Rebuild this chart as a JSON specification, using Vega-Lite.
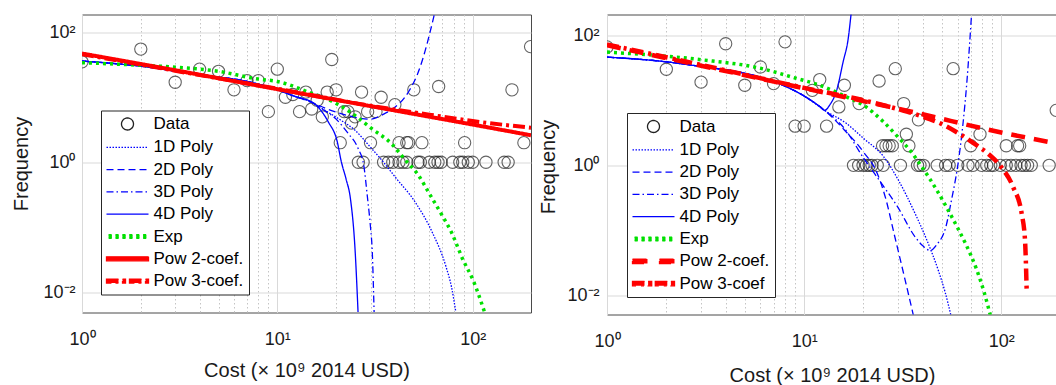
{
  "$schema": "https://vega.github.io/schema/vega-lite/v6.json",
  "padding": {"left": 10, "top": 13.5, "right": 0, "bottom": 0},
  "spacing": 76,
  "bounds": "flush",
  "config": {
    "font": "Liberation Sans",
    "view": {"stroke": "#4a4a4a", "strokeWidth": 1},
    "axis": {"domain": false, "ticks": false, "tickSize": 0, "labelFont": "Liberation Sans", "labelFontSize": 18, "labelColor": "#1a1a1a", "titleFont": "Liberation Sans", "titleFontSize": 20, "titleFontWeight": "normal", "titleColor": "#1a1a1a", "labelFlush": false, "labelOverlap": false, "gridWidth": 1}
  },
  "resolve": {"scale": {"color": "independent", "strokeDash": "independent", "x": "independent", "y": "independent"}, "legend": {"color": "independent", "strokeDash": "independent"}},
  "datasets": {
    "leftPoints": [
      {"series": "Data", "cost": 1, "freq": 35}, {"series": "Data", "cost": 2, "freq": 55}, {"series": "Data", "cost": 3, "freq": 17}, {"series": "Data", "cost": 4, "freq": 27}, {"series": "Data", "cost": 5, "freq": 25}, {"series": "Data", "cost": 6, "freq": 13}, {"series": "Data", "cost": 7, "freq": 18}, {"series": "Data", "cost": 8, "freq": 18}, {"series": "Data", "cost": 9, "freq": 6}, {"series": "Data", "cost": 10, "freq": 27}, {"series": "Data", "cost": 11, "freq": 10}, {"series": "Data", "cost": 12, "freq": 11}, {"series": "Data", "cost": 13, "freq": 6}, {"series": "Data", "cost": 14, "freq": 12}, {"series": "Data", "cost": 15, "freq": 6.6}, {"series": "Data", "cost": 16, "freq": 9}, {"series": "Data", "cost": 17, "freq": 5}, {"series": "Data", "cost": 18, "freq": 12}, {"series": "Data", "cost": 19, "freq": 38}, {"series": "Data", "cost": 20, "freq": 13}, {"series": "Data", "cost": 21, "freq": 2}, {"series": "Data", "cost": 22, "freq": 6}, {"series": "Data", "cost": 23, "freq": 6}, {"series": "Data", "cost": 24, "freq": 4}, {"series": "Data", "cost": 25, "freq": 5}, {"series": "Data", "cost": 27, "freq": 12}, {"series": "Data", "cost": 29, "freq": 6}, {"series": "Data", "cost": 30, "freq": 2}, {"series": "Data", "cost": 32, "freq": 6}, {"series": "Data", "cost": 34, "freq": 10}, {"series": "Data", "cost": 40, "freq": 7.7}, {"series": "Data", "cost": 42, "freq": 2}, {"series": "Data", "cost": 46, "freq": 2}, {"series": "Data", "cost": 47, "freq": 2}, {"series": "Data", "cost": 50, "freq": 13}, {"series": "Data", "cost": 55, "freq": 2}, {"series": "Data", "cost": 67, "freq": 14.6}, {"series": "Data", "cost": 91, "freq": 2}, {"series": "Data", "cost": 159, "freq": 13}, {"series": "Data", "cost": 183, "freq": 2}, {"series": "Data", "cost": 198, "freq": 60},
      {"series": "Data", "cost": 26, "freq": 1}, {"series": "Data", "cost": 27.5, "freq": 1}, {"series": "Data", "cost": 35, "freq": 1}, {"series": "Data", "cost": 37, "freq": 1}, {"series": "Data", "cost": 39, "freq": 1}, {"series": "Data", "cost": 42, "freq": 1}, {"series": "Data", "cost": 44, "freq": 1}, {"series": "Data", "cost": 46, "freq": 1}, {"series": "Data", "cost": 52.5, "freq": 1}, {"series": "Data", "cost": 54, "freq": 1}, {"series": "Data", "cost": 60, "freq": 1}, {"series": "Data", "cost": 64, "freq": 1}, {"series": "Data", "cost": 66.5, "freq": 1}, {"series": "Data", "cost": 69, "freq": 1}, {"series": "Data", "cost": 79, "freq": 1}, {"series": "Data", "cost": 86, "freq": 1}, {"series": "Data", "cost": 89, "freq": 1}, {"series": "Data", "cost": 95, "freq": 1}, {"series": "Data", "cost": 100, "freq": 1}, {"series": "Data", "cost": 117, "freq": 1}, {"series": "Data", "cost": 145, "freq": 1}, {"series": "Data", "cost": 152, "freq": 1}
    ],
    "leftCurves": [
      {"series": "1D Poly", "cost": 1, "freq": 36}, {"series": "1D Poly", "cost": 2, "freq": 30}, {"series": "1D Poly", "cost": 4, "freq": 22}, {"series": "1D Poly", "cost": 7, "freq": 17.5}, {"series": "1D Poly", "cost": 10, "freq": 13}, {"series": "1D Poly", "cost": 12.3, "freq": 10.3}, {"series": "1D Poly", "cost": 15, "freq": 8.4}, {"series": "1D Poly", "cost": 17.5, "freq": 6.3}, {"series": "1D Poly", "cost": 21, "freq": 4.5}, {"series": "1D Poly", "cost": 25, "freq": 3.1}, {"series": "1D Poly", "cost": 30, "freq": 1.7}, {"series": "1D Poly", "cost": 35, "freq": 1.0}, {"series": "1D Poly", "cost": 40, "freq": 0.6}, {"series": "1D Poly", "cost": 51, "freq": 0.24}, {"series": "1D Poly", "cost": 62, "freq": 0.085}, {"series": "1D Poly", "cost": 73, "freq": 0.025}, {"series": "1D Poly", "cost": 78, "freq": 0.012}, {"series": "1D Poly", "cost": 82, "freq": 0.005},
      {"series": "2D Poly", "cost": 1, "freq": 36}, {"series": "2D Poly", "cost": 2, "freq": 30}, {"series": "2D Poly", "cost": 4, "freq": 22}, {"series": "2D Poly", "cost": 7, "freq": 17.5}, {"series": "2D Poly", "cost": 10, "freq": 13}, {"series": "2D Poly", "cost": 12.3, "freq": 10.3}, {"series": "2D Poly", "cost": 15, "freq": 8.3}, {"series": "2D Poly", "cost": 18, "freq": 6.6}, {"series": "2D Poly", "cost": 22, "freq": 5.4}, {"series": "2D Poly", "cost": 26, "freq": 4.8}, {"series": "2D Poly", "cost": 30, "freq": 4.6}, {"series": "2D Poly", "cost": 35, "freq": 5.5}, {"series": "2D Poly", "cost": 40, "freq": 7}, {"series": "2D Poly", "cost": 45, "freq": 10}, {"series": "2D Poly", "cost": 48, "freq": 13.5}, {"series": "2D Poly", "cost": 52, "freq": 22}, {"series": "2D Poly", "cost": 56, "freq": 42}, {"series": "2D Poly", "cost": 60, "freq": 90}, {"series": "2D Poly", "cost": 64, "freq": 200},
      {"series": "3D Poly", "cost": 1, "freq": 36}, {"series": "3D Poly", "cost": 2, "freq": 30}, {"series": "3D Poly", "cost": 4, "freq": 22}, {"series": "3D Poly", "cost": 7, "freq": 17.5}, {"series": "3D Poly", "cost": 10, "freq": 13}, {"series": "3D Poly", "cost": 12.3, "freq": 10.3}, {"series": "3D Poly", "cost": 15, "freq": 8.4}, {"series": "3D Poly", "cost": 17, "freq": 6.6}, {"series": "3D Poly", "cost": 20, "freq": 4.6}, {"series": "3D Poly", "cost": 23, "freq": 2.8}, {"series": "3D Poly", "cost": 26, "freq": 1.6}, {"series": "3D Poly", "cost": 27.7, "freq": 0.9}, {"series": "3D Poly", "cost": 28.9, "freq": 0.3}, {"series": "3D Poly", "cost": 30, "freq": 0.1}, {"series": "3D Poly", "cost": 30.6, "freq": 0.045}, {"series": "3D Poly", "cost": 31.3, "freq": 0.005},
      {"series": "4D Poly", "cost": 1, "freq": 36}, {"series": "4D Poly", "cost": 2, "freq": 30}, {"series": "4D Poly", "cost": 4, "freq": 22}, {"series": "4D Poly", "cost": 7, "freq": 17.5}, {"series": "4D Poly", "cost": 10, "freq": 13}, {"series": "4D Poly", "cost": 12.3, "freq": 10.3}, {"series": "4D Poly", "cost": 15, "freq": 8.4}, {"series": "4D Poly", "cost": 16.2, "freq": 7.0}, {"series": "4D Poly", "cost": 18.3, "freq": 4.1}, {"series": "4D Poly", "cost": 20.2, "freq": 2.16}, {"series": "4D Poly", "cost": 21.3, "freq": 1.0}, {"series": "4D Poly", "cost": 22.5, "freq": 0.55}, {"series": "4D Poly", "cost": 23.7, "freq": 0.27}, {"series": "4D Poly", "cost": 25, "freq": 0.046}, {"series": "4D Poly", "cost": 25.9, "freq": 0.005},
      {"series": "Exp", "cost": 1, "freq": 34}, {"series": "Exp", "cost": 2, "freq": 31}, {"series": "Exp", "cost": 3, "freq": 29}, {"series": "Exp", "cost": 5, "freq": 25}, {"series": "Exp", "cost": 8, "freq": 19}, {"series": "Exp", "cost": 10, "freq": 17.5}, {"series": "Exp", "cost": 14.4, "freq": 12}, {"series": "Exp", "cost": 20, "freq": 8}, {"series": "Exp", "cost": 26, "freq": 4.8}, {"series": "Exp", "cost": 30, "freq": 3.4}, {"series": "Exp", "cost": 38.6, "freq": 1.9}, {"series": "Exp", "cost": 45, "freq": 1.1}, {"series": "Exp", "cost": 53, "freq": 0.62}, {"series": "Exp", "cost": 60, "freq": 0.33}, {"series": "Exp", "cost": 70, "freq": 0.15}, {"series": "Exp", "cost": 77, "freq": 0.09}, {"series": "Exp", "cost": 90, "freq": 0.03}, {"series": "Exp", "cost": 100, "freq": 0.016}, {"series": "Exp", "cost": 115, "freq": 0.005},
      {"series": "Pow 2-coef.", "cost": 1, "freq": 47}, {"series": "Pow 2-coef.", "cost": 3, "freq": 26}, {"series": "Pow 2-coef.", "cost": 10, "freq": 13.3}, {"series": "Pow 2-coef.", "cost": 30, "freq": 7.3}, {"series": "Pow 2-coef.", "cost": 100, "freq": 3.8}, {"series": "Pow 2-coef.", "cost": 199, "freq": 2.6},
      {"series": "Pow 3-coef.", "cost": 1, "freq": 46}, {"series": "Pow 3-coef.", "cost": 3, "freq": 25.5}, {"series": "Pow 3-coef.", "cost": 10, "freq": 13.5}, {"series": "Pow 3-coef.", "cost": 30, "freq": 7.4}, {"series": "Pow 3-coef.", "cost": 60, "freq": 5.4}, {"series": "Pow 3-coef.", "cost": 100, "freq": 4.3}, {"series": "Pow 3-coef.", "cost": 199, "freq": 3.4}
    ],
    "rightPoints": [
      {"series": "Data", "cost": 1, "freq": 66}, {"series": "Data", "cost": 2, "freq": 30}, {"series": "Data", "cost": 3, "freq": 19}, {"series": "Data", "cost": 4, "freq": 74}, {"series": "Data", "cost": 5, "freq": 17}, {"series": "Data", "cost": 6, "freq": 32.5}, {"series": "Data", "cost": 7, "freq": 18}, {"series": "Data", "cost": 8, "freq": 79}, {"series": "Data", "cost": 9, "freq": 4}, {"series": "Data", "cost": 10, "freq": 4}, {"series": "Data", "cost": 11, "freq": 14.2}, {"series": "Data", "cost": 12, "freq": 20.8}, {"series": "Data", "cost": 13, "freq": 4}, {"series": "Data", "cost": 15, "freq": 7.9}, {"series": "Data", "cost": 16, "freq": 17}, {"series": "Data", "cost": 19, "freq": 8.9}, {"series": "Data", "cost": 24, "freq": 19.8}, {"series": "Data", "cost": 25, "freq": 2}, {"series": "Data", "cost": 26, "freq": 2}, {"series": "Data", "cost": 27, "freq": 2}, {"series": "Data", "cost": 28, "freq": 2}, {"series": "Data", "cost": 29, "freq": 30.6}, {"series": "Data", "cost": 32, "freq": 8.9}, {"series": "Data", "cost": 33, "freq": 3}, {"series": "Data", "cost": 34, "freq": 2}, {"series": "Data", "cost": 38, "freq": 5}, {"series": "Data", "cost": 57, "freq": 30.6}, {"series": "Data", "cost": 70, "freq": 2}, {"series": "Data", "cost": 78, "freq": 3}, {"series": "Data", "cost": 106, "freq": 2}, {"series": "Data", "cost": 121, "freq": 2}, {"series": "Data", "cost": 124, "freq": 2}, {"series": "Data", "cost": 190, "freq": 7},
      {"series": "Data", "cost": 17.8, "freq": 1}, {"series": "Data", "cost": 18.9, "freq": 1}, {"series": "Data", "cost": 19.9, "freq": 1}, {"series": "Data", "cost": 20.7, "freq": 1}, {"series": "Data", "cost": 21.4, "freq": 1}, {"series": "Data", "cost": 22.1, "freq": 1}, {"series": "Data", "cost": 23.5, "freq": 1}, {"series": "Data", "cost": 25.2, "freq": 1}, {"series": "Data", "cost": 30.8, "freq": 1}, {"series": "Data", "cost": 37.6, "freq": 1}, {"series": "Data", "cost": 38.7, "freq": 1}, {"series": "Data", "cost": 40.3, "freq": 1}, {"series": "Data", "cost": 47.3, "freq": 1}, {"series": "Data", "cost": 52.2, "freq": 1}, {"series": "Data", "cost": 54.4, "freq": 1}, {"series": "Data", "cost": 60.1, "freq": 1}, {"series": "Data", "cost": 67.8, "freq": 1}, {"series": "Data", "cost": 71.9, "freq": 1}, {"series": "Data", "cost": 79.5, "freq": 1}, {"series": "Data", "cost": 84.4, "freq": 1}, {"series": "Data", "cost": 88.5, "freq": 1}, {"series": "Data", "cost": 91.4, "freq": 1}, {"series": "Data", "cost": 98.9, "freq": 1}, {"series": "Data", "cost": 106, "freq": 1}, {"series": "Data", "cost": 112, "freq": 1}, {"series": "Data", "cost": 118.5, "freq": 1}, {"series": "Data", "cost": 126, "freq": 1}, {"series": "Data", "cost": 131, "freq": 1}, {"series": "Data", "cost": 136, "freq": 1}, {"series": "Data", "cost": 142, "freq": 1}, {"series": "Data", "cost": 175, "freq": 1}
    ],
    "rightCurves": [
      {"series": "1D Poly", "cost": 1, "freq": 46}, {"series": "1D Poly", "cost": 2, "freq": 39}, {"series": "1D Poly", "cost": 3, "freq": 33}, {"series": "1D Poly", "cost": 5, "freq": 26}, {"series": "1D Poly", "cost": 8, "freq": 16.5}, {"series": "1D Poly", "cost": 10.5, "freq": 10.6}, {"series": "1D Poly", "cost": 12.7, "freq": 7}, {"series": "1D Poly", "cost": 16.4, "freq": 4.4}, {"series": "1D Poly", "cost": 20, "freq": 2.6}, {"series": "1D Poly", "cost": 25.4, "freq": 1.34}, {"series": "1D Poly", "cost": 30, "freq": 0.6}, {"series": "1D Poly", "cost": 36.6, "freq": 0.18}, {"series": "1D Poly", "cost": 42, "freq": 0.07}, {"series": "1D Poly", "cost": 48, "freq": 0.024}, {"series": "1D Poly", "cost": 52, "freq": 0.011}, {"series": "1D Poly", "cost": 55.5, "freq": 0.005},
      {"series": "2D Poly", "cost": 1, "freq": 46}, {"series": "2D Poly", "cost": 2, "freq": 39}, {"series": "2D Poly", "cost": 3, "freq": 33}, {"series": "2D Poly", "cost": 5, "freq": 26}, {"series": "2D Poly", "cost": 8, "freq": 16.5}, {"series": "2D Poly", "cost": 10.5, "freq": 10.6}, {"series": "2D Poly", "cost": 12.7, "freq": 7}, {"series": "2D Poly", "cost": 16, "freq": 3.5}, {"series": "2D Poly", "cost": 20, "freq": 1.6}, {"series": "2D Poly", "cost": 23.5, "freq": 0.75}, {"series": "2D Poly", "cost": 26, "freq": 0.3}, {"series": "2D Poly", "cost": 28.6, "freq": 0.089}, {"series": "2D Poly", "cost": 32.3, "freq": 0.019}, {"series": "2D Poly", "cost": 35.8, "freq": 0.005},
      {"series": "3D Poly", "cost": 1, "freq": 46}, {"series": "3D Poly", "cost": 2, "freq": 39}, {"series": "3D Poly", "cost": 3, "freq": 33}, {"series": "3D Poly", "cost": 5, "freq": 26}, {"series": "3D Poly", "cost": 8, "freq": 16.5}, {"series": "3D Poly", "cost": 10.5, "freq": 10.6}, {"series": "3D Poly", "cost": 12.7, "freq": 7}, {"series": "3D Poly", "cost": 16, "freq": 3.7}, {"series": "3D Poly", "cost": 20, "freq": 1.3}, {"series": "3D Poly", "cost": 25, "freq": 0.5}, {"series": "3D Poly", "cost": 29.8, "freq": 0.23}, {"series": "3D Poly", "cost": 36.6, "freq": 0.079}, {"series": "3D Poly", "cost": 40, "freq": 0.058}, {"series": "3D Poly", "cost": 43.7, "freq": 0.049}, {"series": "3D Poly", "cost": 47, "freq": 0.06}, {"series": "3D Poly", "cost": 52.3, "freq": 0.112}, {"series": "3D Poly", "cost": 56, "freq": 0.3}, {"series": "3D Poly", "cost": 60, "freq": 0.94}, {"series": "3D Poly", "cost": 63.7, "freq": 3.9}, {"series": "3D Poly", "cost": 67, "freq": 20}, {"series": "3D Poly", "cost": 70.6, "freq": 200},
      {"series": "4D Poly", "cost": 1, "freq": 46}, {"series": "4D Poly", "cost": 2, "freq": 39}, {"series": "4D Poly", "cost": 3, "freq": 33}, {"series": "4D Poly", "cost": 5, "freq": 26}, {"series": "4D Poly", "cost": 8, "freq": 16.5}, {"series": "4D Poly", "cost": 10.5, "freq": 10.6}, {"series": "4D Poly", "cost": 12, "freq": 8}, {"series": "4D Poly", "cost": 12.7, "freq": 7}, {"series": "4D Poly", "cost": 13.5, "freq": 8.5}, {"series": "4D Poly", "cost": 14.6, "freq": 14}, {"series": "4D Poly", "cost": 15.8, "freq": 40}, {"series": "4D Poly", "cost": 16.7, "freq": 85}, {"series": "4D Poly", "cost": 17.3, "freq": 210},
      {"series": "Exp", "cost": 1, "freq": 55}, {"series": "Exp", "cost": 3, "freq": 42}, {"series": "Exp", "cost": 6, "freq": 31}, {"series": "Exp", "cost": 9, "freq": 22}, {"series": "Exp", "cost": 12, "freq": 17}, {"series": "Exp", "cost": 17, "freq": 10.7}, {"series": "Exp", "cost": 20, "freq": 8.4}, {"series": "Exp", "cost": 25, "freq": 4.8}, {"series": "Exp", "cost": 30, "freq": 2.7}, {"series": "Exp", "cost": 35, "freq": 1.6}, {"series": "Exp", "cost": 40, "freq": 0.9}, {"series": "Exp", "cost": 47, "freq": 0.42}, {"series": "Exp", "cost": 54, "freq": 0.2}, {"series": "Exp", "cost": 60, "freq": 0.11}, {"series": "Exp", "cost": 66, "freq": 0.062}, {"series": "Exp", "cost": 75, "freq": 0.025}, {"series": "Exp", "cost": 82, "freq": 0.011}, {"series": "Exp", "cost": 88, "freq": 0.005},
      {"series": "Pow 2-coef.", "cost": 1, "freq": 70}, {"series": "Pow 2-coef.", "cost": 3, "freq": 34}, {"series": "Pow 2-coef.", "cost": 10, "freq": 15.3}, {"series": "Pow 2-coef.", "cost": 38, "freq": 6.3}, {"series": "Pow 2-coef.", "cost": 100, "freq": 3.2}, {"series": "Pow 2-coef.", "cost": 194, "freq": 2.15},
      {"series": "Pow 3-coef", "cost": 1, "freq": 72}, {"series": "Pow 3-coef", "cost": 3, "freq": 35}, {"series": "Pow 3-coef", "cost": 10, "freq": 15.5}, {"series": "Pow 3-coef", "cost": 20, "freq": 10}, {"series": "Pow 3-coef", "cost": 30, "freq": 7.3}, {"series": "Pow 3-coef", "cost": 40, "freq": 5.6}, {"series": "Pow 3-coef", "cost": 50, "freq": 4.3}, {"series": "Pow 3-coef", "cost": 63, "freq": 2.9}, {"series": "Pow 3-coef", "cost": 73, "freq": 2.15}, {"series": "Pow 3-coef", "cost": 86, "freq": 1.5}, {"series": "Pow 3-coef", "cost": 100, "freq": 0.94}, {"series": "Pow 3-coef", "cost": 115, "freq": 0.46}, {"series": "Pow 3-coef", "cost": 127, "freq": 0.18}, {"series": "Pow 3-coef", "cost": 132, "freq": 0.07}, {"series": "Pow 3-coef", "cost": 134.5, "freq": 0.0125}
    ]
  },
  "hconcat": [
    {
      "width": 449,
      "height": 298,
      "layer": [
        {
          "data": {"name": "leftPoints"},
          "mark": {"type": "point", "shape": "circle", "size": 150, "filled": false, "strokeWidth": 1.1, "clip": true},
          "encoding": {
            "x": {"field": "cost", "type": "quantitative", "scale": {"type": "log", "domain": [1, 199], "nice": false},
              "axis": {"values": [1, 2, 3, 4, 5, 6, 7, 8, 9, 10, 20, 30, 40, 50, 60, 70, 80, 90, 100],
                "labelExpr": "datum.value == 1 ? '10⁰' : datum.value == 10 ? '10¹' : datum.value == 100 ? '10²' : ''",
                "gridDash": {"condition": {"test": "datum.value == 1 || datum.value == 10 || datum.value == 100", "value": []}, "value": [1.5, 2.5]},
                "gridColor": {"condition": {"test": "datum.value == 1 || datum.value == 10 || datum.value == 100", "value": "#d9d9d9"}, "value": "#c4c4c4"},
                "labelPadding": 18, "title": "Cost (× 10⁹ 2014 USD)", "titleX": 224.5, "titleY": 58, "titleBaseline": "middle"}},
            "y": {"field": "freq", "type": "quantitative", "scale": {"type": "log", "domain": [0.0049, 187], "nice": false},
              "axis": {"values": [0.01, 1, 100], "labelExpr": "datum.value >= 50 ? '10²' : datum.value >= 0.5 ? '10⁰' : '10⁻²'", "gridColor": "#d9d9d9", "labelPadding": 7, "title": "Frequency", "titleX": -61, "titleY": 149, "titleBaseline": "middle"}},
            "color": {"field": "series", "type": "nominal",
              "scale": {"domain": ["Data", "1D Poly", "2D Poly", "3D Poly", "4D Poly", "Exp", "Pow 2-coef.", "Pow 3-coef."], "range": ["#222222", "#0000ff", "#0000ff", "#0000ff", "#0000ff", "#00e000", "#ff0000", "#ff0000"]},
              "legend": {"title": null, "orient": "none", "legendX": 19, "legendY": 96, "padding": 5, "rowPadding": 4.3, "symbolOffset": 13, "labelOffset": 17.5, "symbolSize": 144, "symbolStrokeWidth": 1.3, "labelFontSize": 17, "labelFont": "Liberation Sans", "labelColor": "#000000", "strokeColor": "#262626", "fillColor": "#ffffff",
                "encode": {"symbols": {"update": {
                  "shape": {"signal": "datum.value === 'Data' ? 'circle' : datum.value === 'Exp' ? 'M-3.15,-0.29H-2.6V0.29H-3.15Z M-2,-0.29H-1.45V0.29H-2Z M-0.85,-0.29H-0.3V0.29H-0.85Z M0.3,-0.29H0.85V0.29H0.3Z M1.45,-0.29H2V0.29H1.45Z M2.6,-0.29H3.15V0.29H2.6Z' : datum.value === 'Pow 2-coef.' ? 'M-3.5,-0.33H3.5V0.33H-3.5Z' : datum.value === 'Pow 3-coef.' ? 'M-3.5,-0.33H-1.5V0.33H-3.5Z M-0.83,-0.33H-0.33V0.33H-0.83Z M0.33,-0.33H2.33V0.33H0.33Z M3,-0.33H3.5V0.33H3Z' : 'M-3.5,0H3.5'"},
                  "fill": {"signal": "datum.value === 'Exp' ? '#00e000' : indexof(datum.value, 'Pow') === 0 ? '#ff0000' : 'transparent'"},
                  "stroke": {"signal": "(datum.value === 'Exp' || indexof(datum.value, 'Pow') === 0) ? 'transparent' : datum.value === 'Data' ? '#222222' : '#0000ff'"},
                  "strokeWidth": {"value": 1.3}}}}}}
          }
        },
        {
          "data": {"name": "leftCurves"},
          "mark": {"type": "line", "clip": true, "interpolate": "monotone"},
          "encoding": {
            "x": {"field": "cost", "type": "quantitative", "scale": {"type": "log", "domain": [1, 199], "nice": false}},
            "y": {"field": "freq", "type": "quantitative", "scale": {"type": "log", "domain": [0.0049, 187], "nice": false}},
            "color": {"field": "series", "type": "nominal",
              "scale": {"domain": ["Data", "1D Poly", "2D Poly", "3D Poly", "4D Poly", "Exp", "Pow 2-coef.", "Pow 3-coef."], "range": ["#222222", "#0000ff", "#0000ff", "#0000ff", "#0000ff", "#00e000", "#ff0000", "#ff0000"]},
              "legend": {"title": null, "orient": "none", "legendX": 19, "legendY": 96, "padding": 5, "rowPadding": 4.3, "symbolOffset": 13, "labelOffset": 17.5, "symbolSize": 144, "symbolStrokeWidth": 1.3, "labelFontSize": 17, "labelFont": "Liberation Sans", "labelColor": "#000000", "strokeColor": "#262626", "fillColor": "#ffffff",
                "encode": {"symbols": {"update": {
                  "shape": {"signal": "datum.value === 'Data' ? 'circle' : datum.value === 'Exp' ? 'M-3.15,-0.29H-2.6V0.29H-3.15Z M-2,-0.29H-1.45V0.29H-2Z M-0.85,-0.29H-0.3V0.29H-0.85Z M0.3,-0.29H0.85V0.29H0.3Z M1.45,-0.29H2V0.29H1.45Z M2.6,-0.29H3.15V0.29H2.6Z' : datum.value === 'Pow 2-coef.' ? 'M-3.5,-0.33H3.5V0.33H-3.5Z' : datum.value === 'Pow 3-coef.' ? 'M-3.5,-0.33H-1.5V0.33H-3.5Z M-0.83,-0.33H-0.33V0.33H-0.83Z M0.33,-0.33H2.33V0.33H0.33Z M3,-0.33H3.5V0.33H3Z' : 'M-3.5,0H3.5'"},
                  "fill": {"signal": "datum.value === 'Exp' ? '#00e000' : indexof(datum.value, 'Pow') === 0 ? '#ff0000' : 'transparent'"},
                  "stroke": {"signal": "(datum.value === 'Exp' || indexof(datum.value, 'Pow') === 0) ? 'transparent' : datum.value === 'Data' ? '#222222' : '#0000ff'"},
                  "strokeWidth": {"value": 1.3}}}}}},
            "strokeDash": {"field": "series", "type": "nominal",
              "scale": {"domain": ["Data", "1D Poly", "2D Poly", "3D Poly", "4D Poly", "Exp", "Pow 2-coef.", "Pow 3-coef."], "range": [[1, 0], [1.5, 1.5], [7, 4], [7, 3, 1.5, 3], [1, 0], [3, 4], [1, 0], [12, 4, 3, 4]]},
              "legend": {"title": null, "orient": "none", "legendX": 19, "legendY": 96, "padding": 5, "rowPadding": 4.3, "symbolOffset": 13, "labelOffset": 17.5, "symbolSize": 144, "symbolStrokeWidth": 1.3, "labelFontSize": 17, "labelFont": "Liberation Sans", "labelColor": "#000000", "strokeColor": "#262626", "fillColor": "#ffffff",
                "encode": {"symbols": {"update": {
                  "shape": {"signal": "datum.value === 'Data' ? 'circle' : datum.value === 'Exp' ? 'M-3.15,-0.29H-2.6V0.29H-3.15Z M-2,-0.29H-1.45V0.29H-2Z M-0.85,-0.29H-0.3V0.29H-0.85Z M0.3,-0.29H0.85V0.29H0.3Z M1.45,-0.29H2V0.29H1.45Z M2.6,-0.29H3.15V0.29H2.6Z' : datum.value === 'Pow 2-coef.' ? 'M-3.5,-0.33H3.5V0.33H-3.5Z' : datum.value === 'Pow 3-coef.' ? 'M-3.5,-0.33H-1.5V0.33H-3.5Z M-0.83,-0.33H-0.33V0.33H-0.83Z M0.33,-0.33H2.33V0.33H0.33Z M3,-0.33H3.5V0.33H3Z' : 'M-3.5,0H3.5'"},
                  "fill": {"signal": "datum.value === 'Exp' ? '#00e000' : indexof(datum.value, 'Pow') === 0 ? '#ff0000' : 'transparent'"},
                  "stroke": {"signal": "(datum.value === 'Exp' || indexof(datum.value, 'Pow') === 0) ? 'transparent' : datum.value === 'Data' ? '#222222' : '#0000ff'"},
                  "strokeWidth": {"value": 1.3}}}}}},
            "strokeWidth": {"condition": [{"test": "datum.series === 'Exp'", "value": 3.5}, {"test": "indexof(datum.series, 'Pow') === 0", "value": 4}], "value": 1.3}
          }
        }
      ]
    },
    {
      "width": 451,
      "height": 300,
      "layer": [
        {
          "data": {"name": "rightPoints"},
          "mark": {"type": "point", "shape": "circle", "size": 150, "filled": false, "strokeWidth": 1.1, "clip": true},
          "encoding": {
            "x": {"field": "cost", "type": "quantitative", "scale": {"type": "log", "domain": [1, 194], "nice": false},
              "axis": {"values": [1, 2, 3, 4, 5, 6, 7, 8, 9, 10, 20, 30, 40, 50, 60, 70, 80, 90, 100],
                "labelExpr": "datum.value == 1 ? '10⁰' : datum.value == 10 ? '10¹' : datum.value == 100 ? '10²' : ''",
                "gridDash": {"condition": {"test": "datum.value == 1 || datum.value == 10 || datum.value == 100", "value": []}, "value": [1.5, 2.5]},
                "gridColor": {"condition": {"test": "datum.value == 1 || datum.value == 10 || datum.value == 100", "value": "#d9d9d9"}, "value": "#c4c4c4"},
                "labelPadding": 18, "title": "Cost (× 10⁹ 2014 USD)", "titleX": 225, "titleY": 61, "titleBaseline": "middle"}},
            "y": {"field": "freq", "type": "quantitative", "scale": {"type": "log", "domain": [0.0051, 208], "nice": false},
              "axis": {"values": [0.01, 1, 100], "labelExpr": "datum.value >= 50 ? '10²' : datum.value >= 0.5 ? '10⁰' : '10⁻²'", "gridColor": "#d9d9d9", "labelPadding": 8, "title": "Frequency", "titleX": -59, "titleY": 152, "titleBaseline": "middle"}},
            "color": {"field": "series", "type": "nominal",
              "scale": {"domain": ["Data", "1D Poly", "2D Poly", "3D Poly", "4D Poly", "Exp", "Pow 2-coef.", "Pow 3-coef"], "range": ["#222222", "#0000ff", "#0000ff", "#0000ff", "#0000ff", "#00e000", "#ff0000", "#ff0000"]},
              "legend": {"title": null, "orient": "none", "legendX": 20, "legendY": 98.5, "padding": 5, "rowPadding": 4.3, "symbolOffset": 13, "labelOffset": 17.5, "symbolSize": 144, "symbolStrokeWidth": 1.3, "labelFontSize": 17, "labelFont": "Liberation Sans", "labelColor": "#000000", "strokeColor": "#262626", "fillColor": "#ffffff",
                "encode": {"symbols": {"update": {
                  "shape": {"signal": "datum.value === 'Data' ? 'circle' : datum.value === 'Exp' ? 'M-3.15,-0.29H-2.6V0.29H-3.15Z M-2,-0.29H-1.45V0.29H-2Z M-0.85,-0.29H-0.3V0.29H-0.85Z M0.3,-0.29H0.85V0.29H0.3Z M1.45,-0.29H2V0.29H1.45Z M2.6,-0.29H3.15V0.29H2.6Z' : datum.value === 'Pow 2-coef.' ? 'M-3.5,-0.375H-1V0.375H-3.5Z M1,-0.375H3.5V0.375H1Z' : datum.value === 'Pow 3-coef' ? 'M-3.5,-0.375H-1.5V0.375H-3.5Z M-0.9,-0.375H-0.3V0.375H-0.9Z M0.3,-0.375H2.3V0.375H0.3Z M2.9,-0.375H3.5V0.375H2.9Z' : 'M-3.5,0H3.5'"},
                  "fill": {"signal": "datum.value === 'Exp' ? '#00e000' : indexof(datum.value, 'Pow') === 0 ? '#ff0000' : 'transparent'"},
                  "stroke": {"signal": "(datum.value === 'Exp' || indexof(datum.value, 'Pow') === 0) ? 'transparent' : datum.value === 'Data' ? '#222222' : '#0000ff'"},
                  "strokeWidth": {"value": 1.3}}}}}}
          }
        },
        {
          "data": {"name": "rightCurves"},
          "mark": {"type": "line", "clip": true, "interpolate": "monotone"},
          "encoding": {
            "x": {"field": "cost", "type": "quantitative", "scale": {"type": "log", "domain": [1, 194], "nice": false}},
            "y": {"field": "freq", "type": "quantitative", "scale": {"type": "log", "domain": [0.0051, 208], "nice": false}},
            "color": {"field": "series", "type": "nominal",
              "scale": {"domain": ["Data", "1D Poly", "2D Poly", "3D Poly", "4D Poly", "Exp", "Pow 2-coef.", "Pow 3-coef"], "range": ["#222222", "#0000ff", "#0000ff", "#0000ff", "#0000ff", "#00e000", "#ff0000", "#ff0000"]},
              "legend": {"title": null, "orient": "none", "legendX": 20, "legendY": 98.5, "padding": 5, "rowPadding": 4.3, "symbolOffset": 13, "labelOffset": 17.5, "symbolSize": 144, "symbolStrokeWidth": 1.3, "labelFontSize": 17, "labelFont": "Liberation Sans", "labelColor": "#000000", "strokeColor": "#262626", "fillColor": "#ffffff",
                "encode": {"symbols": {"update": {
                  "shape": {"signal": "datum.value === 'Data' ? 'circle' : datum.value === 'Exp' ? 'M-3.15,-0.29H-2.6V0.29H-3.15Z M-2,-0.29H-1.45V0.29H-2Z M-0.85,-0.29H-0.3V0.29H-0.85Z M0.3,-0.29H0.85V0.29H0.3Z M1.45,-0.29H2V0.29H1.45Z M2.6,-0.29H3.15V0.29H2.6Z' : datum.value === 'Pow 2-coef.' ? 'M-3.5,-0.375H-1V0.375H-3.5Z M1,-0.375H3.5V0.375H1Z' : datum.value === 'Pow 3-coef' ? 'M-3.5,-0.375H-1.5V0.375H-3.5Z M-0.9,-0.375H-0.3V0.375H-0.9Z M0.3,-0.375H2.3V0.375H0.3Z M2.9,-0.375H3.5V0.375H2.9Z' : 'M-3.5,0H3.5'"},
                  "fill": {"signal": "datum.value === 'Exp' ? '#00e000' : indexof(datum.value, 'Pow') === 0 ? '#ff0000' : 'transparent'"},
                  "stroke": {"signal": "(datum.value === 'Exp' || indexof(datum.value, 'Pow') === 0) ? 'transparent' : datum.value === 'Data' ? '#222222' : '#0000ff'"},
                  "strokeWidth": {"value": 1.3}}}}}},
            "strokeDash": {"field": "series", "type": "nominal",
              "scale": {"domain": ["Data", "1D Poly", "2D Poly", "3D Poly", "4D Poly", "Exp", "Pow 2-coef.", "Pow 3-coef"], "range": [[1, 0], [1.5, 1.5], [7, 4], [7, 3, 1.5, 3], [1, 0], [3, 4], [14, 9], [12, 5, 3, 5]]},
              "legend": {"title": null, "orient": "none", "legendX": 20, "legendY": 98.5, "padding": 5, "rowPadding": 4.3, "symbolOffset": 13, "labelOffset": 17.5, "symbolSize": 144, "symbolStrokeWidth": 1.3, "labelFontSize": 17, "labelFont": "Liberation Sans", "labelColor": "#000000", "strokeColor": "#262626", "fillColor": "#ffffff",
                "encode": {"symbols": {"update": {
                  "shape": {"signal": "datum.value === 'Data' ? 'circle' : datum.value === 'Exp' ? 'M-3.15,-0.29H-2.6V0.29H-3.15Z M-2,-0.29H-1.45V0.29H-2Z M-0.85,-0.29H-0.3V0.29H-0.85Z M0.3,-0.29H0.85V0.29H0.3Z M1.45,-0.29H2V0.29H1.45Z M2.6,-0.29H3.15V0.29H2.6Z' : datum.value === 'Pow 2-coef.' ? 'M-3.5,-0.375H-1V0.375H-3.5Z M1,-0.375H3.5V0.375H1Z' : datum.value === 'Pow 3-coef' ? 'M-3.5,-0.375H-1.5V0.375H-3.5Z M-0.9,-0.375H-0.3V0.375H-0.9Z M0.3,-0.375H2.3V0.375H0.3Z M2.9,-0.375H3.5V0.375H2.9Z' : 'M-3.5,0H3.5'"},
                  "fill": {"signal": "datum.value === 'Exp' ? '#00e000' : indexof(datum.value, 'Pow') === 0 ? '#ff0000' : 'transparent'"},
                  "stroke": {"signal": "(datum.value === 'Exp' || indexof(datum.value, 'Pow') === 0) ? 'transparent' : datum.value === 'Data' ? '#222222' : '#0000ff'"},
                  "strokeWidth": {"value": 1.3}}}}}},
            "strokeWidth": {"condition": [{"test": "datum.series === 'Exp'", "value": 3.5}, {"test": "indexof(datum.series, 'Pow') === 0", "value": 4.5}], "value": 1.3}
          }
        }
      ]
    }
  ]
}
